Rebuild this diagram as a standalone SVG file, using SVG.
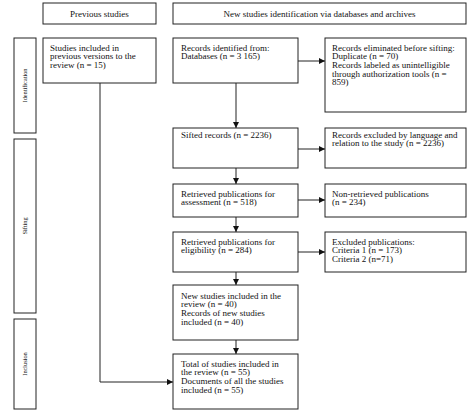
<svg xmlns="http://www.w3.org/2000/svg" width="471" height="417" viewBox="0 0 471 417">
<defs>
<style>
.b{fill:#fff;stroke:#222;stroke-width:1}
.t{font-family:"Liberation Serif",serif;font-size:9px;fill:#111}
.s{font-family:"Liberation Serif",serif;font-size:6.3px;fill:#111}
.c{fill:none;stroke:#222;stroke-width:1}
</style>
<marker id="a" viewBox="0 0 6 6" refX="6" refY="3" markerWidth="6" markerHeight="6" markerUnits="userSpaceOnUse" orient="auto"><path d="M0,0 L6,3 L0,6 z" fill="#111"/></marker>
</defs>
<rect width="471" height="417" fill="#fff"/>
<g id="connectors">
<path class="c" d="M298,61 H325" marker-end="url(#a)"/>
<path class="c" d="M236,83 V128" marker-end="url(#a)"/>
<path class="c" d="M298,149 H325" marker-end="url(#a)"/>
<path class="c" d="M236,168 V184" marker-end="url(#a)"/>
<path class="c" d="M298,200 H325" marker-end="url(#a)"/>
<path class="c" d="M236,217 V232" marker-end="url(#a)"/>
<path class="c" d="M298,252 H325" marker-end="url(#a)"/>
<path class="c" d="M236,272 V285" marker-end="url(#a)"/>
<path class="c" d="M236,340 V354" marker-end="url(#a)"/>
<path class="c" d="M100,83 V382 H173" marker-end="url(#a)"/>
</g>
<g id="hdr-prev"><rect class="b" x="43" y="3" width="113" height="21"/><text class="t" x="99.5" y="16.5" text-anchor="middle">Previous studies</text></g>
<g id="hdr-new"><rect class="b" x="173" y="3" width="293" height="21"/><text class="t" x="319.5" y="16.5" text-anchor="middle">New studies identification  via databases  and archives</text></g>
<g id="side-ident"><rect class="b" x="14" y="38" width="22" height="95"/><text class="s" transform="translate(27,85.5) rotate(-90)" text-anchor="middle">Identification</text></g>
<g id="side-sift"><rect class="b" x="14" y="139" width="22" height="174"/><text class="s" transform="translate(27,226) rotate(-90)" text-anchor="middle">Sifting</text></g>
<g id="side-incl"><rect class="b" x="14" y="319" width="22" height="90"/><text class="s" transform="translate(27,364) rotate(-90)" text-anchor="middle">Inclusion</text></g>
<g id="prev"><rect class="b" x="43" y="38" width="113" height="45"/><text class="t" x="50" y="50.5">Studies included in<tspan x="50" dy="8.7">previous versions to the</tspan><tspan x="50" dy="8.7">review  (n = 15)</tspan></text></g>
<g id="ident"><rect class="b" x="173" y="38" width="125" height="45"/><text class="t" x="181" y="50.5">Records identified from:<tspan x="181" dy="8.7">Databases (n = 3 165)</tspan></text></g>
<g id="elim"><rect class="b" x="325" y="38" width="141" height="74"/><text class="t" x="332" y="50.5">Records eliminated  before sifting:<tspan x="332" dy="8.7">Duplicate (n = 70)</tspan><tspan x="332" dy="8.7">Records labeled as unintelligible</tspan><tspan x="332" dy="8.7">through authorization  tools (n =</tspan><tspan x="332" dy="8.7">859)</tspan></text></g>
<g id="sifted"><rect class="b" x="173" y="128" width="125" height="40"/><text class="t" x="181" y="137.5">Sifted records (n = 2236)</text></g>
<g id="excl-lang"><rect class="b" x="325" y="128" width="141" height="40"/><text class="t" x="332" y="137.5">Records excluded by language and<tspan x="332" dy="8.7">relation to the study (n = 2236)</tspan></text></g>
<g id="assess"><rect class="b" x="173" y="184" width="125" height="33"/><text class="t" x="181" y="196.5">Retrieved publications  for<tspan x="181" dy="8.7">assessment (n = 518)</tspan></text></g>
<g id="nonret"><rect class="b" x="325" y="184" width="141" height="33"/><text class="t" x="332" y="196.5">Non-retrieved publications<tspan x="332" dy="8.7">(n = 234)</tspan></text></g>
<g id="elig"><rect class="b" x="173" y="232" width="125" height="40"/><text class="t" x="181" y="244.5">Retrieved publications  for<tspan x="181" dy="8.7">eligibility  (n = 284)</tspan></text></g>
<g id="excl-pub"><rect class="b" x="325" y="232" width="141" height="40"/><text class="t" x="332" y="244.5">Excluded publications:<tspan x="332" dy="8.7">Criteria 1 (n = 173)</tspan><tspan x="332" dy="8.7">Criteria 2 (n=71)</tspan></text></g>
<g id="new"><rect class="b" x="173" y="285" width="125" height="55"/><text class="t" x="181" y="298.5">New studies included in the<tspan x="181" dy="8.7">review  (n = 40)</tspan><tspan x="181" dy="8.7">Records of new studies</tspan><tspan x="181" dy="8.7">included  (n = 40)</tspan></text></g>
<g id="total"><rect class="b" x="173" y="354" width="125" height="55"/><text class="t" x="181" y="366.5">Total of studies included  in<tspan x="181" dy="8.7">the review (n = 55)</tspan><tspan x="181" dy="8.7">Documents of all  the studies</tspan><tspan x="181" dy="8.7">included  (n = 55)</tspan></text></g>
</svg>
